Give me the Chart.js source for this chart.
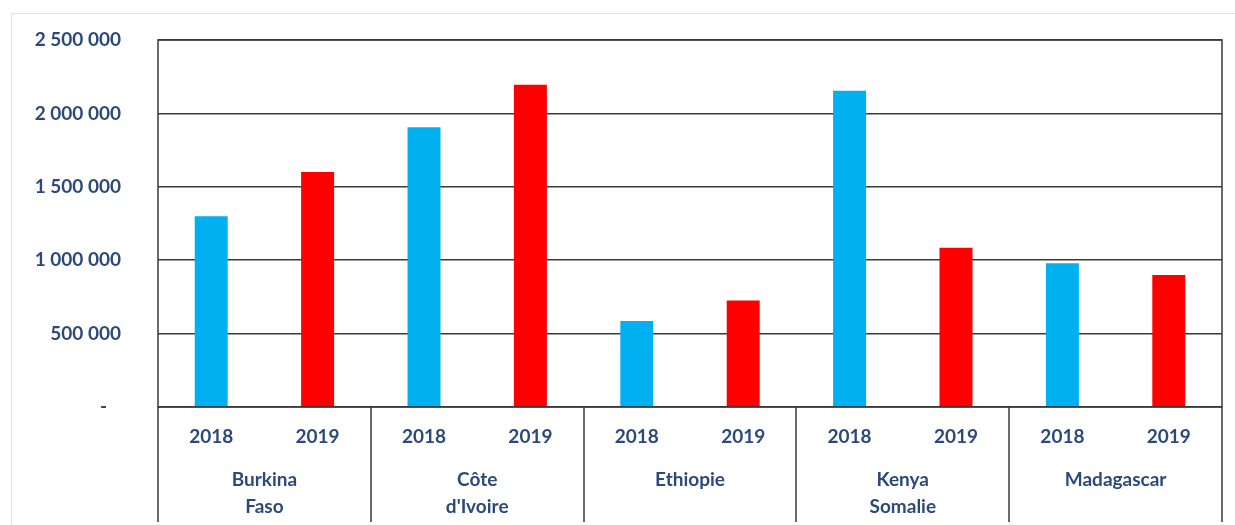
<!DOCTYPE html>
<html lang="fr">
<head>
    <meta charset="UTF-8">
    <title>2018 / 2019</title>
    <script src="https://cdn.jsdelivr.net/npm/chart.js"></script>
    <style>
        * { margin: 0; padding: 0; box-sizing: border-box; }
        body { width: 1235px; height: 525px; background: #fff; overflow: hidden; position: relative; }
        .frame {
            position: absolute;
            left: 11px; top: 13px;
            width: 1240px; height: 520px;
            border-left: 1px solid #e4e4e4;
            border-top: 1px solid #e4e4e4;
        }
        #chart { position: absolute; left: 0; top: 0; }
    </style>
</head>
<body>
    <div class="frame"></div>
    <canvas id="chart" width="1235" height="525"></canvas>

    <script>
        // data
        const countries = [['Burkina', 'Faso'], ['Côte', "d'Ivoire"], ['Ethiopie'], ['Kenya', 'Somalie'], ['Madagascar']];
        const years = ['2018', '2019'];
        const values2018 = [1300000, 1905000, 585000, 2155000, 980000];
        const values2019 = [1600000, 2195000, 725000, 1085000, 900000];
        const yTicks = [0, 500000, 1000000, 1500000, 2000000, 2500000];

        const textColor = '#2b4a7a';
        const lineColor = '#3a3a3a';
        const font = { family: 'Lato', size: 19, weight: 'bold' };

        // one category per (country, year); each dataset fills only its own year
        const labels = countries.flatMap(() => years);
        const data2018 = values2018.flatMap(v => [v, null]);
        const data2019 = values2019.flatMap(v => [null, v]);

        function fmt(v) {
            if (v === 0) return '-   ';
            return String(v).replace(/\B(?=(\d{3})+(?!\d))/g, ' ');
        }

        // frame of the plot, group separators and country names
        const groupPlugin = {
            id: 'groups',
            afterDraw(chart) {
                const ctx = chart.ctx;
                const area = chart.chartArea;
                const x = chart.scales.x;
                const bottom = 522;
                const groupW = (x.right - x.left) / countries.length;

                ctx.save();
                ctx.strokeStyle = lineColor;
                ctx.lineWidth = 1.5;
                ctx.strokeRect(area.left, area.top, area.right - area.left, area.bottom - area.top);

                ctx.beginPath();
                for (let i = 0; i <= countries.length; i++) {
                    const gx = Math.round(x.left + i * groupW);
                    ctx.moveTo(gx, area.bottom);
                    ctx.lineTo(gx, bottom);
                }
                ctx.stroke();

                ctx.fillStyle = textColor;
                ctx.font = `${font.weight} ${font.size}px ${font.family}`;
                ctx.textAlign = 'center';
                ctx.textBaseline = 'middle';
                countries.forEach((lines, i) => {
                    const cx = x.left + (i + 0.5) * groupW;
                    lines.forEach((t, j) => ctx.fillText(t, cx, 480 + j * 27));
                });
                ctx.restore();
            }
        };

        new Chart(document.getElementById('chart'), {
            type: 'bar',
            data: {
                labels: labels,
                datasets: [
                    { label: years[0], data: data2018, backgroundColor: '#00b0f0' },
                    { label: years[1], data: data2019, backgroundColor: '#ff0000' }
                ]
            },
            options: {
                responsive: false,
                animation: false,
                skipNull: true,
                categoryPercentage: 1,
                barPercentage: 0.31,
                layout: { padding: { top: 40, right: 13, left: 0, bottom: 0 } },
                plugins: {
                    legend: { display: false },
                    tooltip: { enabled: false }
                },
                scales: {
                    x: {
                        grid: { display: false, drawTicks: false },
                        border: { display: false },
                        ticks: { color: textColor, font: font, padding: 18, maxRotation: 0, autoSkip: false },
                        afterFit(scale) {
                            scale.height = 118;
                            scale.paddingLeft = 0;
                            scale.paddingRight = 0;
                        }
                    },
                    y: {
                        min: 0,
                        max: 2500000,
                        afterBuildTicks(scale) { scale.ticks = yTicks.map(v => ({ value: v })); },
                        grid: { color: lineColor, lineWidth: 1.5, drawTicks: false },
                        border: { display: false },
                        ticks: { color: textColor, font: font, padding: 37, callback: fmt },
                        afterFit(scale) {
                            scale.width = 158;
                            scale.paddingTop = 0;
                            scale.paddingBottom = 0;
                        }
                    }
                }
            },
            plugins: [groupPlugin]
        });
    </script>
</body>
</html>
